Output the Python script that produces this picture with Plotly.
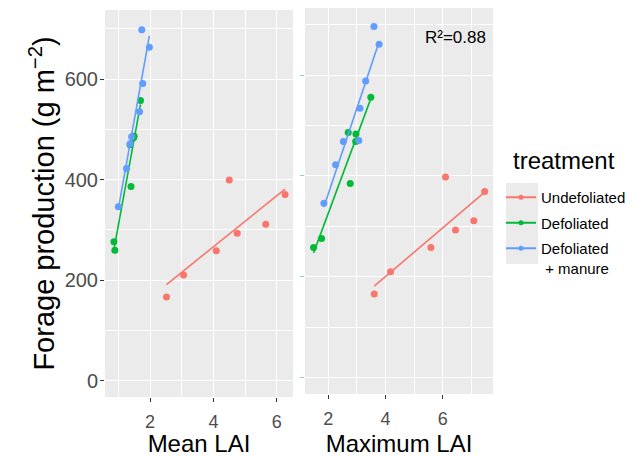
import numpy as np
import plotly.graph_objects as go

# ---------------- data ----------------
treatments = ["Undefoliated", "Defoliated", "Defoliated<br> + manure"]
colors = ["#F8766D", "#00BA38", "#619CFF"]

# Mean LAI panel
undef_mean_lai = [2.52, 3.06, 4.09, 4.50, 4.75, 5.65, 6.26]
undef_mean_prod = [166, 210, 258, 399, 293, 311, 370]
def_mean_lai = [0.89, 0.86, 1.40, 1.37, 1.48, 1.50, 1.70]
def_mean_prod = [259, 276, 386, 469, 483, 486, 557]
man_mean_lai = [1.00, 1.26, 1.37, 1.42, 1.67, 1.77, 1.98, 1.74]
man_mean_prod = [346, 422, 471, 485, 535, 591, 663, 698]

# Maximum LAI panel
undef_max_lai = [3.61, 4.18, 5.59, 6.10, 6.45, 7.09, 7.47]
undef_max_prod = [166, 210, 258, 398, 293, 311, 369]
def_max_lai = [1.49, 1.77, 2.77, 2.96, 2.97, 2.70, 3.49]
def_max_prod = [258, 276, 385, 468, 483, 486, 556]
man_max_lai = [1.85, 2.26, 2.53, 3.07, 3.11, 3.31, 3.78, 3.60]
man_max_prod = [346, 422, 468, 470, 534, 588, 661, 696]

x_ticks = [2, 4, 6]
y_ticks = [0, 200, 400, 600]
r2_label = "R²=0.88"

panels = [
    ("x", "y", [(undef_mean_lai, undef_mean_prod), (def_mean_lai, def_mean_prod), (man_mean_lai, man_mean_prod)]),
    ("x2", "y2", [(undef_max_lai, undef_max_prod), (def_max_lai, def_max_prod), (man_max_lai, man_max_prod)]),
]

FONT = "Liberation Sans, Arial, sans-serif"
W, H = 632, 457
ML, MR, MT, MB = 105, 632 - 493, 8, 457 - 397
PW, PH = W - ML - MR, H - MT - MB


def px_x(p):
    return (p - ML) / PW


def px_y(p):
    return (H - MB - p) / PH


fig = go.Figure()
for xa, ya, groups in panels:
    for (xs, ys), col, name in zip(groups, colors, treatments):
        xs_a = np.array(xs, dtype=float)
        ys_a = np.array(ys, dtype=float)
        slope, icpt = np.polyfit(xs_a, ys_a, 1)
        lx = np.array([xs_a.min(), xs_a.max()])
        fig.add_trace(go.Scatter(x=lx, y=slope * lx + icpt, mode="lines",
                                 line=dict(color=col, width=1.6),
                                 xaxis=xa, yaxis=ya, showlegend=False, hoverinfo="skip"))
        fig.add_trace(go.Scatter(x=xs, y=ys, mode="markers",
                                 marker=dict(color=col, size=7),
                                 xaxis=xa, yaxis=ya, showlegend=False, name=name))

# legend entries
for i, (col, name) in enumerate(zip(colors, treatments)):
    fig.add_trace(go.Scatter(x=[None], y=[None], mode="lines+markers", name=name,
                             line=dict(color=col, width=2), marker=dict(color=col, size=5),
                             legendgroup="g%d" % i,
                             xaxis="x", yaxis="y", showlegend=True))

grid = dict(showgrid=True, gridcolor="white", gridwidth=1.4, zeroline=False, showline=False,
            automargin=False)
minor_x = dict(dtick=1, tick0=0, showgrid=True, gridcolor="white", gridwidth=0.9, ticks="")
minor_y = dict(dtick=100, tick0=0, showgrid=True, gridcolor="white", gridwidth=0.9, ticks="")

fig.update_layout(
    width=W, height=H,
    margin=dict(l=ML, r=MR, t=MT, b=MB, pad=0, autoexpand=False),
    paper_bgcolor="white",
    plot_bgcolor="#EBEBEB",
    font=dict(family=FONT, color="black"),
    xaxis=dict(domain=[0, px_x(293)], range=[0.58, 6.51], anchor="y",
               tickvals=x_ticks, ticks="outside", ticklen=4, tickcolor="#333333",
               tickfont=dict(size=18, color="#4D4D4D"), minor=minor_x, ticklabelstandoff=4,
               title=dict(text="Mean LAI", font=dict(size=24, color="black"), standoff=7),
               **grid),
    yaxis=dict(domain=[0, px_y(10)], range=[-32.8, 737.3], anchor="x",
               tickvals=y_ticks, ticks="outside", ticklen=4, tickcolor="#333333",
               tickfont=dict(size=20, color="#4D4D4D"), minor=minor_y, ticklabelstandoff=-2,
               title=dict(text="Forage production (g m<sup>−2</sup>)", font=dict(size=29, color="black"), standoff=1),
               **grid),
    xaxis2=dict(domain=[px_x(305), 1], range=[1.19, 7.76], anchor="y2",
                tickvals=x_ticks, ticks="outside", ticklen=4, tickcolor="#333333",
                tickfont=dict(size=18, color="#4D4D4D"), minor=minor_x, ticklabelstandoff=4,
                title=dict(text="Maximum LAI", font=dict(size=24, color="black"), standoff=7),
                **grid),
    yaxis2=dict(domain=[px_y(394), 1], range=[-32.3, 732.8], anchor="x2",
                tickvals=y_ticks, ticks="outside", ticklen=4, tickcolor="#8AD0D0",
                showticklabels=False, minor=minor_y,
                **grid),
    legend=dict(x=px_x(501), y=px_y(181), xanchor="left", yanchor="top",
                bgcolor="rgba(0,0,0,0)", valign="top", tracegroupgap=3,
                font=dict(size=15, color="black")),
    annotations=[dict(text=r2_label, x=px_x(455), y=px_y(38), xref="paper", yref="paper",
                      xanchor="center", yanchor="middle",
                      showarrow=False, font=dict(size=17, color="black")),
                 dict(text="treatment", x=px_x(511), y=px_y(160), xref="paper", yref="paper",
                      xanchor="left", yanchor="middle", showarrow=False,
                      font=dict(size=24, color="black"))],
    shapes=[dict(type="rect", xref="paper", yref="paper", x0=px_x(506), x1=px_x(538),
                 y0=px_y(264), y1=px_y(183), fillcolor="#EBEBEB", line=dict(width=0), layer="below")],
)

fig.write_html("out.html", config={"displayModeBar": False},
               post_script="document.body.style.margin='0';")
